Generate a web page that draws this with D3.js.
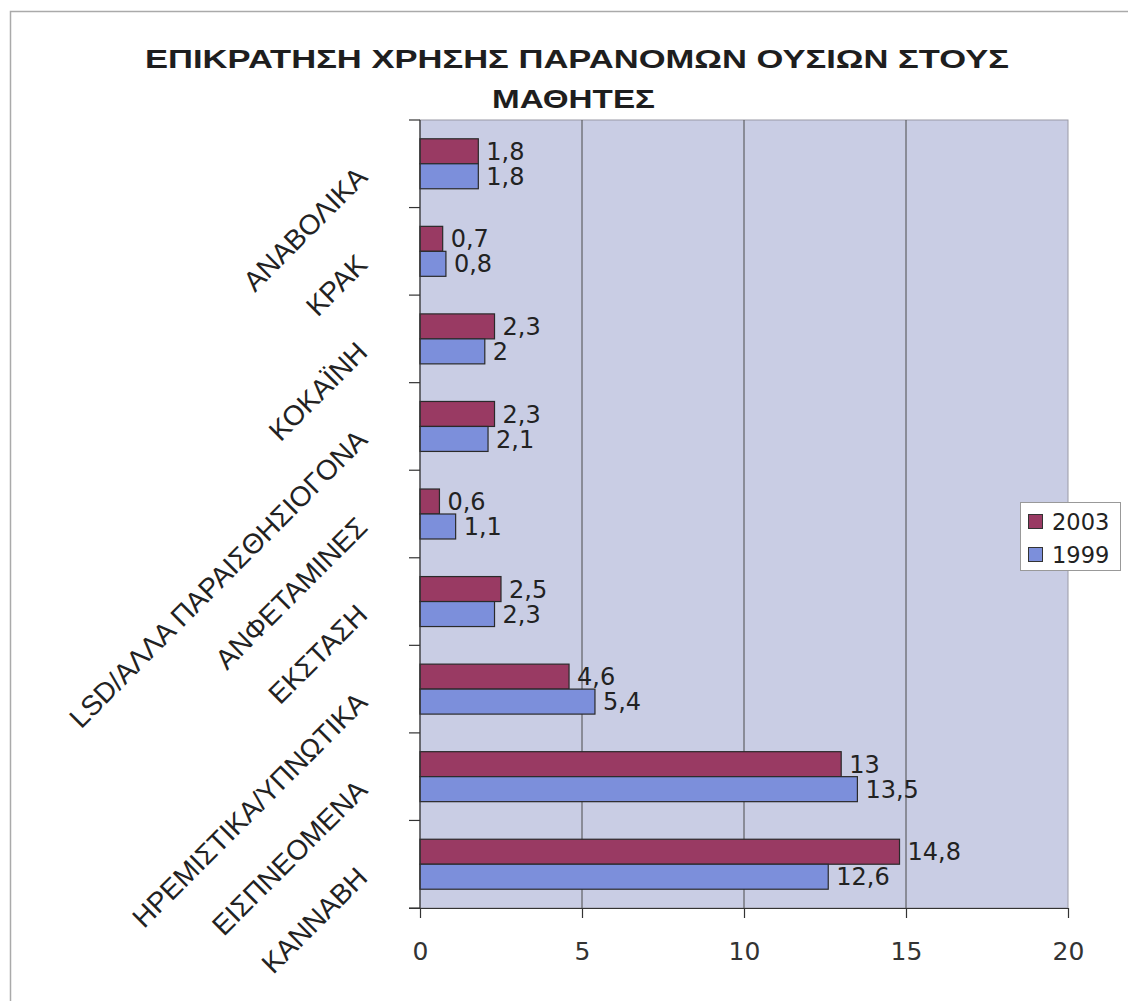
<!DOCTYPE html>
<html>
<head>
<meta charset="utf-8">
<script src="https://cdn.jsdelivr.net/npm/d3@7"></script>
<style>
  html, body { margin: 0; padding: 0; background: #fff; }
  svg { display: block; }
</style>
</head>
<body>
<svg id="chart" width="1128" height="1001"></svg>
<script>
const titleLines = ["ΕΠΙΚΡΑΤΗΣΗ ΧΡΗΣΗΣ ΠΑΡΑΝΟΜΩΝ ΟΥΣΙΩΝ ΣΤΟΥΣ", "ΜΑΘΗΤΕΣ"];
const categories = ["ΑΝΑΒΟΛΙΚΑ", "ΚΡΑΚ", "ΚΟΚΑΪΝΗ", "LSD/ΑΛΛΑ ΠΑΡΑΙΣΘΗΣΙΟΓΟΝΑ", "ΑΝΦΕΤΑΜΙΝΕΣ", "ΕΚΣΤΑΣΗ", "ΗΡΕΜΙΣΤΙΚΑ/ΥΠΝΩΤΙΚΑ", "ΕΙΣΠΝΕΟΜΕΝΑ", "ΚΑΝΝΑΒΗ"];
const seriesNames = ["2003", "1999"];
const values2003 = [1.8, 0.7, 2.3, 2.3, 0.6, 2.5, 4.6, 13, 14.8];
const values1999 = [1.8, 0.8, 2, 2.1, 1.1, 2.3, 5.4, 13.5, 12.6];
const xTicks = [0, 5, 10, 15, 20];
const seriesColors = ["#993a63", "#7c8fdb"];

const svg = d3.select("#chart");
const plot = { left: 420, right: 1068, top: 120, bottom: 908 };

// outer border
svg.append("rect").attr("x", 10.5).attr("y", 11.5).attr("width", 1200).attr("height", 1200)
  .attr("fill", "#fff").attr("stroke", "#aaa").attr("stroke-width", 1.5);

// title
const titleLayout = [{ cx: 577, y: 68, len: 864 }, { cx: 573.5, y: 108, len: 163 }];
titleLines.forEach((t, i) => {
  svg.append("text").attr("x", titleLayout[i].cx).attr("y", titleLayout[i].y)
    .attr("text-anchor", "middle")
    .attr("font-family", "Liberation Sans, Arial, sans-serif")
    .attr("font-weight", "bold").attr("font-size", 25.5)
    .attr("fill", "#1e1e1e")
    .attr("textLength", titleLayout[i].len).attr("lengthAdjust", "spacingAndGlyphs")
    .text(t);
});

const x = d3.scaleLinear().domain([0, 20]).range([plot.left, plot.right]);
const y = d3.scaleBand().domain(categories).range([plot.top, plot.bottom]).padding(0);
const ySub = d3.scaleBand().domain(seriesNames).range([0, y.bandwidth()]).paddingInner(0).paddingOuter(0.752);

// plot background
svg.append("rect").attr("x", plot.left).attr("y", plot.top)
  .attr("width", plot.right - plot.left).attr("height", plot.bottom - plot.top)
  .attr("fill", "#c9cde4").attr("stroke", "#9a9aa6").attr("stroke-width", 1);

// gridlines
svg.append("g").selectAll("line").data(xTicks.filter(d => d > 0 && d < 20)).join("line")
  .attr("x1", d => x(d)).attr("x2", d => x(d))
  .attr("y1", plot.top).attr("y2", plot.bottom)
  .attr("stroke", "#4a4a4a").attr("stroke-width", 1);

// bars
const data = categories.map((c, i) => ({ cat: c, vals: [values2003[i], values1999[i]] }));
const groups = svg.append("g").selectAll("g").data(data).join("g")
  .attr("transform", d => `translate(0,${y(d.cat)})`);
groups.selectAll("rect").data(d => d.vals.map((v, j) => ({ s: seriesNames[j], v, j }))).join("rect")
  .attr("x", x(0)).attr("y", d => ySub(d.s))
  .attr("width", d => x(d.v) - x(0)).attr("height", ySub.bandwidth())
  .attr("fill", d => seriesColors[d.j]).attr("stroke", "#2a2a2a").attr("stroke-width", 1.2);
groups.selectAll("text").data(d => d.vals.map((v, j) => ({ s: seriesNames[j], v, j }))).join("text")
  .attr("x", d => x(d.v) + 8).attr("y", d => ySub(d.s) + ySub.bandwidth() / 2)
  .attr("dy", "0.36em")
  .attr("font-family", "DejaVu Sans, sans-serif").attr("font-size", 24)
  .attr("fill", "#222")
  .text(d => String(d.v).replace(".", ","));

// y axis (category) with ticks at boundaries
const yAxisG = svg.append("g");
yAxisG.append("line").attr("x1", plot.left).attr("x2", plot.left)
  .attr("y1", plot.top).attr("y2", plot.bottom).attr("stroke", "#333").attr("stroke-width", 1.2);
const boundaries = categories.map(c => y(c)).concat([plot.bottom]);
yAxisG.selectAll("line.tk").data(boundaries).join("line").attr("class", "tk")
  .attr("x1", plot.left - 11).attr("x2", plot.left)
  .attr("y1", d => d).attr("y2", d => d).attr("stroke", "#333").attr("stroke-width", 1.2);
yAxisG.selectAll("text").data(categories).join("text")
  .attr("transform", d => `translate(369,${y(d) + y.bandwidth() / 2 + 15}) rotate(-45)`)
  .attr("text-anchor", "end")
  .attr("font-family", "Liberation Sans, Arial, sans-serif").attr("font-size", 28)
  .attr("fill", "#222")
  .text(d => d);

// x axis
const xAxis = d3.axisBottom(x).tickValues(xTicks).tickSize(10).tickPadding(24)
  .tickFormat(d => String(d));
const xg = svg.append("g").attr("transform", `translate(0,${plot.bottom})`).call(xAxis);
xg.select(".domain").attr("stroke", "#333").attr("stroke-width", 1.2).attr("d", `M${plot.left - 11},0.5H${plot.right}`);
xg.selectAll(".tick line").attr("stroke", "#333").attr("stroke-width", 1.2);
xg.selectAll(".tick text").attr("font-family", "DejaVu Sans, sans-serif").attr("font-size", 25)
  .attr("fill", "#333");

// legend
const lg = svg.append("g");
lg.append("rect").attr("x", 1020.5).attr("y", 502.5).attr("width", 100).attr("height", 68)
  .attr("fill", "#fff").attr("stroke", "#999").attr("stroke-width", 1);
seriesNames.forEach((s, i) => {
  const cy = 522 + i * 33;
  lg.append("rect").attr("x", 1028.5).attr("y", cy - 7.5).attr("width", 14).attr("height", 14)
    .attr("fill", seriesColors[i]).attr("stroke", "#333").attr("stroke-width", 1);
  lg.append("text").attr("x", 1052).attr("y", cy).attr("dy", "0.36em")
    .attr("font-family", "DejaVu Sans, sans-serif").attr("font-size", 22.5).attr("fill", "#222")
    .text(s);
});
</script>
</body>
</html>
